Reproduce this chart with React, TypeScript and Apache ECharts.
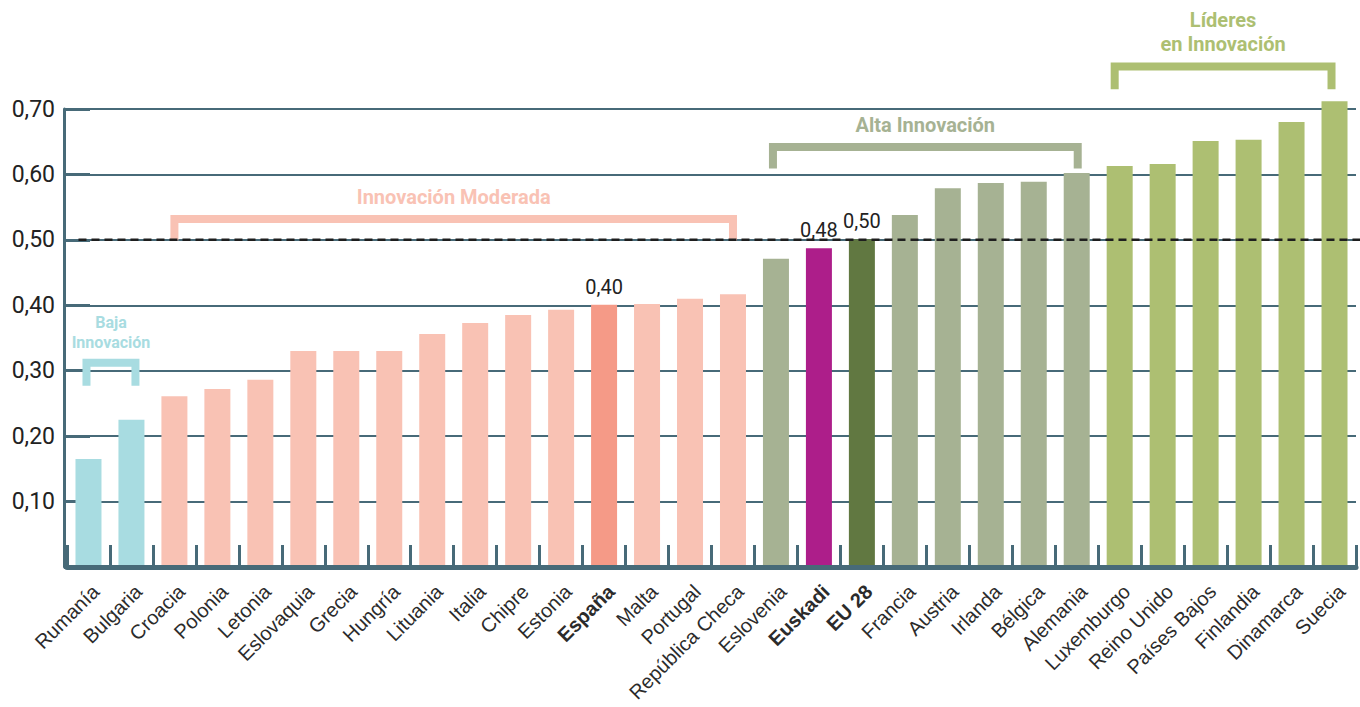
import React, { useEffect, useRef } from 'react';
import * as echarts from 'echarts';

// ---- Data ----
const categories = [
  'Rumanía', 'Bulgaria', 'Croacia', 'Polonia', 'Letonia', 'Eslovaquia', 'Grecia', 'Hungría',
  'Lituania', 'Italia', 'Chipre', 'Estonia', 'España', 'Malta', 'Portugal', 'República Checa',
  'Eslovenia', 'Euskadi', 'EU 28', 'Francia', 'Austria', 'Irlanda', 'Bélgica', 'Alemania',
  'Luxemburgo', 'Reino Unido', 'Países Bajos', 'Finlandia', 'Dinamarca', 'Suecia',
];
const values = [
  0.165, 0.225, 0.261, 0.272, 0.286, 0.330, 0.330, 0.330,
  0.356, 0.373, 0.385, 0.393, 0.401, 0.402, 0.410, 0.417,
  0.471, 0.487, 0.501, 0.538, 0.579, 0.587, 0.589, 0.602,
  0.613, 0.616, 0.651, 0.653, 0.680, 0.712,
];
const groupOfCategory = [
  'baja', 'baja', 'moderada', 'moderada', 'moderada', 'moderada', 'moderada', 'moderada',
  'moderada', 'moderada', 'moderada', 'moderada', 'moderada', 'moderada', 'moderada', 'moderada',
  'alta', 'alta', 'alta', 'alta', 'alta', 'alta', 'alta', 'alta',
  'lideres', 'lideres', 'lideres', 'lideres', 'lideres', 'lideres',
];
const highlightedCategories = ['España', 'Euskadi', 'EU 28'];
const referenceValue = 0.5;

// group brackets: first/last category index of each group
const groupTitles = ['Baja\nInnovación', 'Innovación Moderada', 'Alta Innovación', 'Líderes\nen Innovación'];
const groupKeys = ['baja', 'moderada', 'alta', 'lideres'];
const groupFirst = [0, 2, 16, 24];
const groupLast = [1, 15, 23, 29];

// ---- Styles ----
const groupColors: Record<string, string> = {
  baja: '#a8dce1',
  moderada: '#f9c2b4',
  alta: '#a6b293',
  lideres: '#adbf72',
};
const highlightColors: Record<string, string> = {
  'España': '#f59a87',
  'Euskadi': '#ad1e8a',
  'EU 28': '#617841',
};
const axisColor = '#476a78';
// bracket vertical placement (value units), per group
const bracketTop = [0.312, 0.532, 0.642, 0.765];
const bracketLeg = [0.277, 0.499, 0.609, 0.730];
const bracketText = [0.358, 0.566, 0.676, 0.818];
const bracketFont = [16, 20, 20, 20];
const bracketLineHeight = [20, 24, 24, 24];
const bracketShiftL = [-2, 0, -3, -5];
const bracketShiftR = [4, 0, 1, -3];

const fmt = (v: number) => (Math.floor(v * 100 + 1e-6) / 100).toFixed(2).replace('.', ',');

export default function App() {
  const ref = useRef<HTMLDivElement>(null);

  useEffect(() => {
    if (!ref.current) return;
    const chart = echarts.init(ref.current, undefined, { renderer: 'svg' });

    const data = categories.map((c, i) => ({
      value: values[i],
      itemStyle: { color: highlightColors[c] || groupColors[groupOfCategory[i]] },
      label: { show: highlightedCategories.includes(c) },
    }));

    chart.setOption({
      animation: false,
      grid: { left: 67, right: 4, top: 109, bottom: 140, containLabel: false, outerBoundsMode: 'none' },
      xAxis: {
        type: 'category',
        data: categories,
        z: 5,
        axisLine: { show: true, lineStyle: { color: axisColor, width: 5 } },
        axisTick: { show: true, inside: true, length: 22, lineStyle: { color: axisColor, width: 3 } },
        axisLabel: {
          interval: 0,
          rotate: 45,
          margin: 14,
          verticalAlign: 'top',
          formatter: (v: string) => (highlightedCategories.includes(v) ? `{b|${v}}` : `{n|${v}}`),
          rich: {
            n: { fontSize: 20, fontFamily: 'Liberation Sans, Arial, sans-serif', color: '#2b2b2b' },
            b: { fontSize: 20, fontWeight: 'bold', fontFamily: 'Liberation Sans, Arial, sans-serif', color: '#2b2b2b' },
          },
        },
      },
      yAxis: {
        type: 'value',
        min: 0,
        max: 0.7,
        interval: 0.1,
        offset: 3,
        axisLine: { show: true, lineStyle: { color: axisColor, width: 3 } },
        axisTick: { show: true, inside: true, length: 26, lineStyle: { color: axisColor, width: 3 } },
        axisLabel: {
          formatter: (v: number) => (v === 0 ? '' : v.toFixed(2).replace('.', ',')),
          fontSize: 23,
          fontFamily: 'Roboto, sans-serif',
          color: '#222',
          margin: 9,
        },
        splitLine: { show: true, lineStyle: { color: axisColor, width: 2 } },
      },
      series: [
        {
          type: 'bar',
          data,
          barWidth: 26,
          clip: false,
          label: {
            show: false,
            position: 'top',
            distance: 8,
            formatter: (p: any) => fmt(p.value),
            fontSize: 20,
            fontFamily: 'Roboto, sans-serif',
            color: '#222',
          },
        },
      ],
    });

    const toPx = (i: number, v: number) => chart.convertToPixel({ gridIndex: 0 }, [i, v]) as number[];
    const graphics: any[] = [];
    groupKeys.forEach((g, k) => {
      const color = groupColors[g];
      const [xl0, yTop] = toPx(groupFirst[k], bracketTop[k]);
      const [xr0] = toPx(groupLast[k], bracketTop[k]);
      const [, yLeg] = toPx(groupFirst[k], bracketLeg[k]);
      const [, yText] = toPx(groupFirst[k], bracketText[k]);
      const xl = xl0 + bracketShiftL[k];
      const xr = xr0 + bracketShiftR[k];
      graphics.push({
        type: 'polyline',
        z: 8,
        shape: { points: [[xl, yLeg], [xl, yTop], [xr, yTop], [xr, yLeg]] },
        style: { stroke: color, lineWidth: 8, fill: 'none', lineJoin: 'miter' },
      });
      graphics.push({
        type: 'text',
        z: 8,
        x: (xl + xr) / 2,
        y: yText,
        style: {
          text: groupTitles[k],
          fontSize: bracketFont[k],
          fontWeight: 'bold',
          fontFamily: 'Roboto, sans-serif',
          fill: color,
          align: 'center',
          verticalAlign: 'middle',
          lineHeight: bracketLineHeight[k],
        },
      });
    });
    const [x0, yRef] = toPx(0, referenceValue);
    graphics.push({
      type: 'line',
      z: 20,
      shape: { x1: x0 - 10, y1: yRef, x2: 1360, y2: yRef },
      style: { stroke: '#1e1e1e', lineWidth: 2.5, lineDash: [8, 5] },
    });
    chart.setOption({ graphic: graphics });

    return () => chart.dispose();
  }, []);

  return (
    <div
      ref={ref}
      style={{ position: 'fixed', left: 0, top: 0, width: 1360, height: 707, background: '#fff' }}
    />
  );
}
